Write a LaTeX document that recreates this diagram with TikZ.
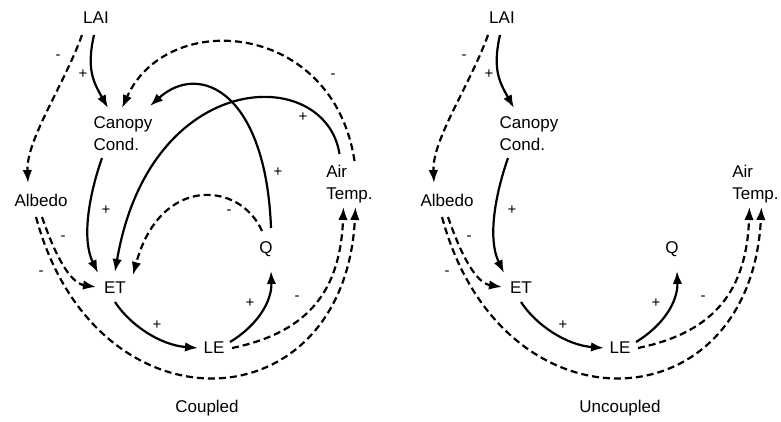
\documentclass[tikz,border=0pt]{standalone}
\usepackage{fontspec}
\setmainfont{Liberation Sans}
\usetikzlibrary{arrows.meta}
\tikzset{
	var/.style={inner sep=0pt, font=\fontsize{17}{22}\selectfont},
	sgn/.style={inner sep=0pt, font=\fontsize{15}{16}\selectfont},
	pos link/.style={draw, line width=2.2pt, -{Latex[length=13pt,width=9.5pt]}},
	neg link/.style={pos link, dash pattern=on 7pt off 4pt},
	pics/loop/.style={
		code={
			\node[var] (lai) at (96,18) {LAI};
			\node[var, align=left] (can) at (123,134) {Canopy\\Cond.};
			\node[var] (alb) at (41,200) {Albedo};
			\node[var, align=left] (air) at (349.5,184) {Air\\Temp.};
			\node[var] (et) at (115,288) {ET};
			\node[var] (q) at (266,249) {Q};
			\node[var] (le) at (214,348) {LE};

			\draw[pos link] ([shift={(-2,17)}]lai.center) .. controls +(-8,35) and +(-14,-25) .. ([shift={(-15,-26)}]can.center);
			\draw[neg link] ([shift={(-14,17)}]lai.center) .. controls +(-18,50) and +(-2,-43) .. ([shift={(-13,-17)}]alb.center);
			\draw[pos link] ([shift={(-21,24)}]can.center) .. controls +(-14,40) and +(-16,-33) .. ([shift={(-17,-15)}]et.center);
			\draw[neg link] ([shift={(1,17)}]alb.center) .. controls +(13,38) and +(-26,-4) .. ([shift={(-19,-1)}]et.center);
			\draw[neg link] ([shift={(-5,17)}]alb.center) .. controls +(59,220) and +(-11,220) .. ([shift={(6,23)}]air.center);
			\draw[neg link] ([shift={(18,0)}]le.center) .. controls +(78,-16) and +(-3,82) .. ([shift={(-6,23)}]air.center);
			\draw[pos link] ([shift={(0,14)}]et.center) .. controls +(15,23) and +(-38,-3) .. ([shift={(-16,0)}]le.center);
			\draw[pos link] ([shift={(16,-6)}]le.center) .. controls +(28,-17) and +(1,30) .. ([shift={(5,22)}]q.center);

			\node[sgn] (s1) at (58,57) {-};
			\node[sgn] (s2) at (83,74) {+};
			\node[sgn] (s3) at (106,210) {+};
			\node[sgn] (s4) at (63,238) {-};
			\node[sgn] (s5) at (41,273) {-};
			\node[sgn] (s6) at (157,325) {+};
			\node[sgn] (s7) at (250,303) {+};
			\node[sgn] (s8) at (297,298) {-};
		}
	}
}

\begin{document}
\begin{tikzpicture}[x=1pt, y=-1pt]
	\useasboundingbox (0,0) rectangle (781,421);

	% --- coupled ---
	\pic (c) at (0,0) {loop};
	\draw[neg link] ([shift={(5,-23)}]cair.center) .. controls +(-21,-140) and +(45,-100) .. ([shift={(-1,-26)}]ccan.center);
	\draw[pos link] ([shift={(-10,-30)}]cair.center) .. controls +(-14,-90) and +(35,-205) .. ([shift={(0,-16)}]cet.center);
	\draw[pos link] ([shift={(5,-21)}]cq.center) .. controls +(-5,-135) and +(50,-45) .. ([shift={(27,-28)}]ccan.center);
	\draw[neg link] ([shift={(-4,-18)}]cq.center) .. controls +(-22,-50) and +(27,-100) .. ([shift={(18,-13)}]cet.center);
	\node[sgn] (c1) at (333,76) {-};
	\node[sgn] (c2) at (303,117) {+};
	\node[sgn] (c3) at (278,172) {+};
	\node[sgn] (c4) at (229,212) {-};
	\node[var] (coupled) at (207,408) {Coupled};

	% --- uncoupled ---
	\pic (u) at (406,0) {loop};
	\node[var] (uncoupled) at (620,408) {Uncoupled};
\end{tikzpicture}
\end{document}
